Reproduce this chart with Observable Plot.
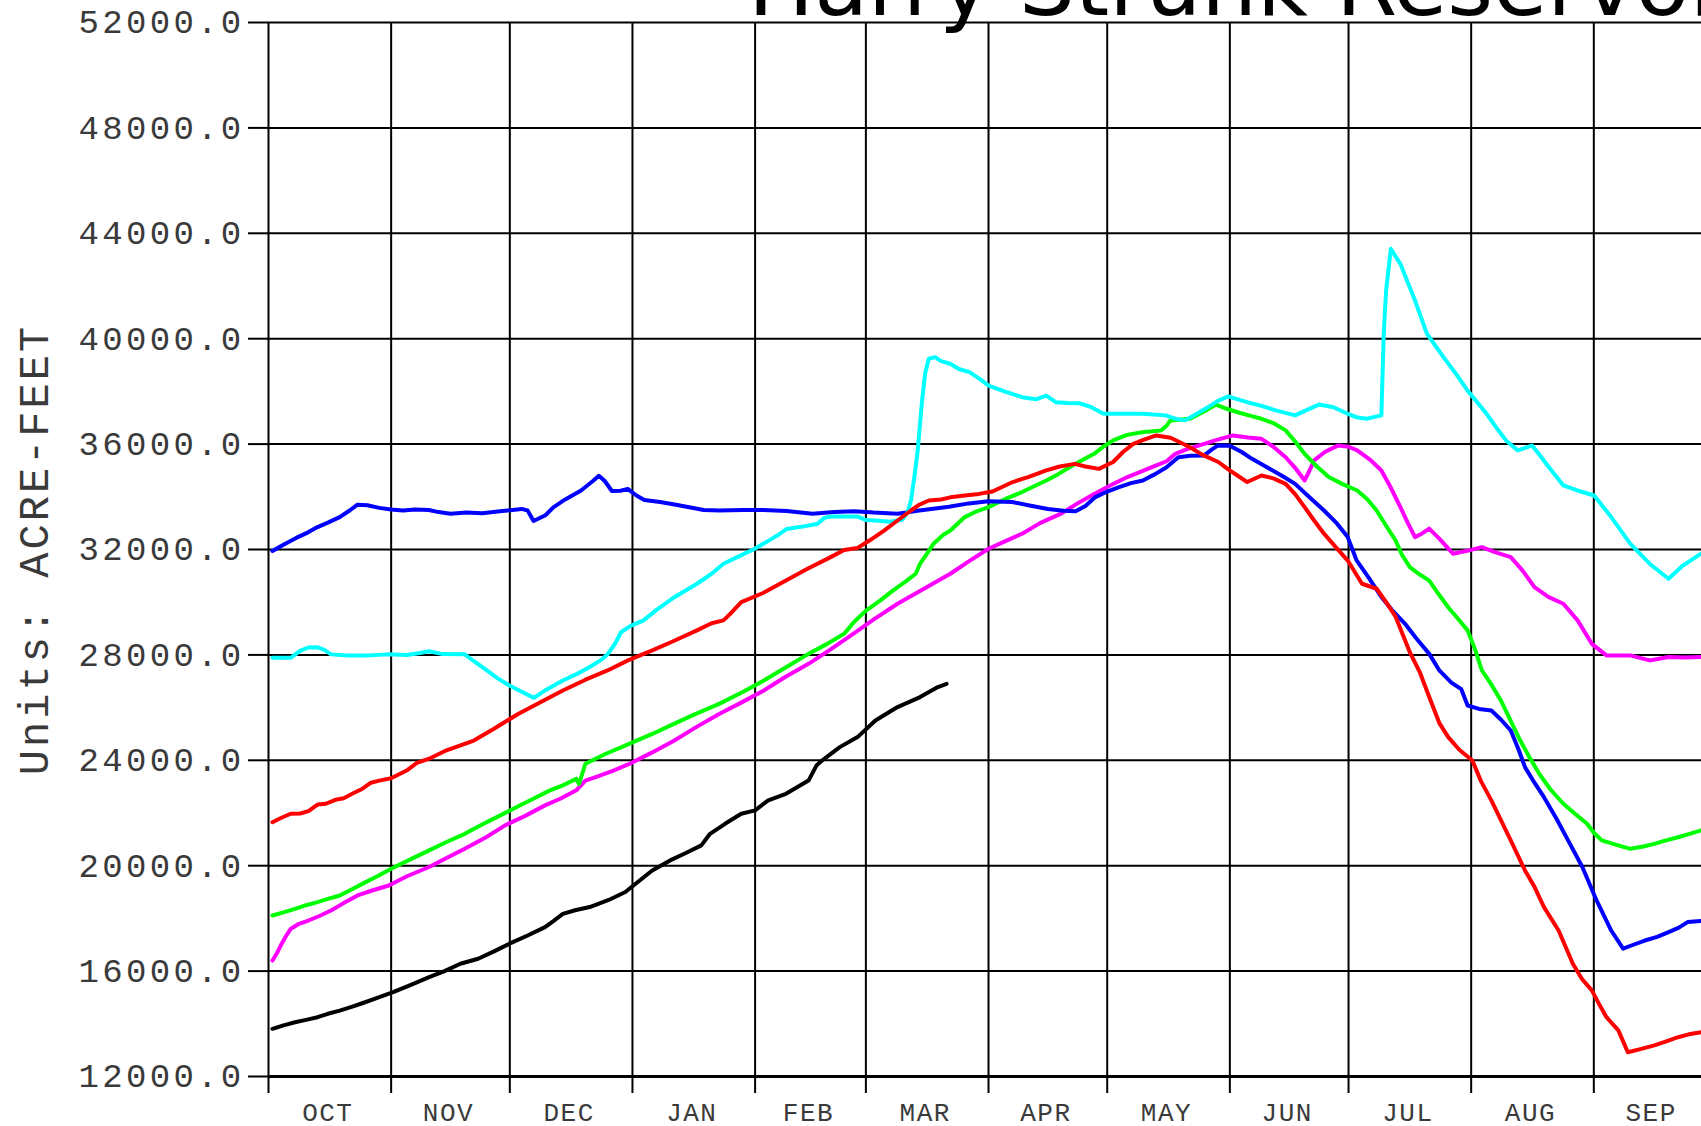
<!DOCTYPE html>
<html><head><meta charset="utf-8">
<script src="https://cdn.jsdelivr.net/npm/d3@7"></script>
<script src="https://cdn.jsdelivr.net/npm/@observablehq/plot@0.6"></script>
<style>
html, body { margin:0; padding:0; overflow:hidden; background:#fff; width:1701px; height:1126px; }
#wrap { position:relative; width:1720px; height:1126px; }
#title { position:absolute; left:748px; top:-59.5px; font-family:"DejaVu Sans"; font-size:88px; line-height:88px; white-space:nowrap; color:#000; z-index:2; }
#chart { position:absolute; left:0; top:0; }
#chart svg { max-width:none !important; }
g[aria-label="y-axis tick label"] text { letter-spacing: 3.3px; }
g[aria-label="x-axis tick label"] text { letter-spacing: 1.5px; }
g[aria-label="text"] text { letter-spacing: 3px; }
</style>
</head><body>
<div id="wrap"><div id="title">Harry Strunk Reservoir</div><div id="chart"></div></div>
<script>
// Water-year day index (Oct 1 = 0)
const monthNames = ["OCT","NOV","DEC","JAN","FEB","MAR","APR","MAY","JUN","JUL","AUG","SEP"];
const monthStarts = [0,31,61,92,123,151,182,212,243,273,304,335,365];
const yTicks = [12000,16000,20000,24000,28000,32000,36000,40000,44000,48000,52000];
const yLabel = "Units: ACRE-FEET";
const titleText = "Harry Strunk Reservoir";

const blue = [[1,31940],[4,32200],[7,32440],[10,32650],[12.4,32850],[15,33020],[18,33230],[20.5,33480],[22.5,33700],[25,33680],[28,33580],[31,33520],[34,33480],[37,33520],[40.5,33500],[43,33420],[46,33360],[50,33400],[54,33380],[58.5,33450],[64,33540],[65.5,33480],[67,33080],[70,33300],[72,33600],[75,33900],[79,34240],[82,34600],[83.5,34800],[85,34600],[86.8,34220],[89,34230],[90.8,34300],[93,34050],[95,33880],[99,33800],[103,33700],[106,33610],[110,33500],[114,33480],[120,33500],[125,33500],[131,33460],[137.5,33360],[143,33420],[148,33450],[153,33400],[159,33360],[164.5,33480],[168,33550],[172,33620],[177,33750],[182,33830],[188,33800],[193,33650],[197,33540],[201,33470],[204,33450],[206.5,33650],[209,33990],[212,34200],[215,34370],[218,34520],[221,34620],[224,34850],[227,35120],[230,35500],[233,35560],[236.5,35570],[238.5,35800],[240,35950],[243,35940],[246,35700],[248.6,35440],[251.5,35200],[254.6,34930],[257,34720],[259.5,34490],[263,34000],[266.8,33480],[270,33000],[272.8,32470],[275,31600],[278,30950],[281.3,30200],[284,29700],[287.3,29180],[290,28650],[293.4,28040],[296,27400],[299,26950],[301.5,26700],[303.1,26080],[306,25950],[309.1,25890],[311.5,25550],[314,25130],[316,24400],[317.6,23740],[320,23150],[322.4,22600],[325.5,21800],[328.5,20960],[332.1,19950],[335.7,18680],[339.4,17540],[342.4,16850],[345,17000],[347.9,17160],[351,17300],[353.9,17480],[356.5,17650],[358.7,17860],[362,17900],[365,17920]];

const cyan = [[1,27890],[5.6,27890],[8,28150],[10,28280],[12.4,28290],[14,28200],[15.8,28020],[20,27980],[25,27980],[30,28020],[35,28000],[38.3,28070],[40.6,28140],[44,28030],[49.6,28020],[52,27750],[55.2,27410],[58,27100],[60.9,26840],[64,26600],[67.1,26370],[70,26660],[74.4,27030],[78,27280],[81.2,27540],[84,27800],[85.7,28020],[87.5,28400],[89.1,28860],[91.5,29100],[94.7,29300],[98,29700],[102.6,30190],[108.3,30700],[112,31080],[115,31460],[119,31750],[122.9,32030],[125.8,32280],[128.6,32530],[131,32780],[134.2,32850],[138.7,32970],[140.5,33200],[142.1,33250],[148.9,33250],[151,33120],[153.4,33100],[157,33050],[160.2,33130],[161.5,33400],[162.4,33860],[163.3,34800],[164.1,35760],[165.2,37650],[166,38700],[166.9,39240],[168.5,39300],[170,39150],[172.35,39050],[174.5,38850],[177.2,38730],[180,38450],[182,38220],[186,38000],[190.5,37780],[194,37700],[196.6,37840],[199,37590],[202,37560],[205,37550],[208,37400],[211.1,37150],[216,37150],[220.8,37150],[226.8,37090],[229.5,36950],[231.7,36900],[235.3,37210],[238,37450],[240.1,37650],[242.6,37810],[245,37700],[247.4,37590],[251,37450],[254.6,37280],[259.5,37090],[262.5,37300],[265.5,37500],[269.2,37400],[272.8,37150],[275,37020],[277.6,36960],[281.3,37090],[281.9,40190],[282.5,41830],[283.7,43410],[286.1,42840],[289.8,41450],[292.8,40190],[297,39300],[300,38700],[303.1,38030],[307.9,37150],[310.5,36600],[312.8,36140],[315.8,35760],[319.4,35950],[321.5,35550],[323.6,35130],[327.3,34430],[331,34230],[335.1,34050],[339.4,33230],[344.2,32220],[349.1,31460],[353.9,30890],[357.5,31390],[362.1,31840],[365,32100]];

const red = [[1,21650],[3,21800],[5.6,21970],[8,21980],[10.1,22070],[12.4,22320],[14.5,22350],[16.9,22500],[19,22560],[21.4,22750],[23.5,22900],[25.9,23150],[28,23230],[31,23320],[34.9,23610],[37.5,23900],[40.6,24060],[45,24380],[51.9,24750],[57,25200],[63.1,25760],[68,26150],[74.4,26650],[80,27050],[85.7,27410],[91,27800],[97,28170],[102,28500],[108.3,28930],[112,29200],[115,29310],[117,29600],[119.5,30000],[125,30350],[130.8,30820],[136,31250],[142.1,31710],[145.5,31980],[148.9,32060],[152,32350],[155.6,32720],[159,33100],[162.4,33480],[164.5,33700],[166.9,33860],[170,33900],[172.35,33980],[176,34050],[179.6,34110],[183,34200],[188.1,34560],[192,34750],[196.6,35000],[200,35150],[203.8,35250],[206.5,35150],[209.9,35060],[213.5,35320],[216,35700],[218.5,36000],[220.8,36140],[224.4,36330],[228,36240],[230,36100],[232.9,35880],[236,35600],[240.1,35320],[242.5,35050],[245,34800],[247.4,34560],[251,34810],[254,34700],[257.1,34490],[259.5,34100],[261.9,33610],[264.3,33100],[266.8,32600],[270,32050],[272.8,31580],[276.4,30700],[280.1,30510],[282.5,30000],[284.9,29450],[288.5,28100],[291,27350],[293.4,26400],[296,25400],[298.2,24880],[301,24400],[304.3,23990],[306.5,23200],[309.1,22480],[314,20960],[317.6,19820],[320,19200],[322.4,18430],[326.1,17540],[329.7,16280],[332,15700],[334.5,15270],[336.5,14700],[338.2,14250],[341.2,13750],[343.6,12920],[347,13050],[350.3,13180],[353.5,13340],[356.3,13490],[359,13600],[362.1,13680],[365,13750]];

const green = [[1,18110],[4,18240],[6.7,18360],[9.5,18500],[12.4,18620],[15,18740],[18,18870],[21,19100],[23.7,19310],[27.5,19600],[31.5,19920],[36,20250],[40.6,20580],[45,20900],[49.6,21210],[54,21560],[58.6,21910],[63,22250],[67.7,22600],[71,22850],[74.4,23050],[77.8,23300],[78.5,23100],[80.1,23870],[85,24230],[91.3,24630],[97,25000],[102.6,25390],[108,25760],[113.9,26140],[120,26600],[125.2,27030],[130.5,27500],[136.5,28040],[141,28400],[145.5,28800],[148,29250],[151.1,29690],[154.5,30050],[157.9,30450],[161,30780],[163.6,31080],[164.7,31460],[166.5,31850],[168.1,32220],[170.5,32550],[172.35,32720],[176,33230],[179,33450],[182,33610],[186,33900],[190.5,34180],[193.5,34400],[196.6,34620],[199.5,34850],[202.6,35130],[205.5,35380],[208.7,35630],[211,35900],[213.5,36140],[217,36350],[220.8,36450],[225.6,36520],[227,36700],[228,36900],[232.9,36960],[236,37200],[239.5,37500],[242,37350],[245,37210],[248,37080],[251,36960],[254,36800],[257.1,36520],[259.5,36100],[261.9,35630],[265,35150],[268,34750],[271.5,34480],[275.2,34240],[277.8,33900],[280.1,33480],[282.5,32900],[284.9,32340],[286.5,31800],[288.5,31330],[291,31050],[293.4,30820],[295.8,30300],[298.2,29810],[300.5,29400],[303.1,28930],[305,28200],[306.7,27410],[309,26900],[311.5,26270],[314,25500],[316.4,24750],[318.8,24100],[321.2,23490],[324,22900],[327.3,22350],[330,22000],[333.3,21590],[335,21250],[337,20960],[340.5,20800],[344.2,20640],[347.5,20730],[350.3,20830],[353,20950],[356.3,21080],[359,21200],[362.1,21340],[365,21450]];

const magenta = [[1,16400],[2.2,16700],[3.3,17030],[4.5,17350],[5.6,17600],[7.5,17780],[10.1,17920],[13,18100],[15.8,18300],[19,18580],[22.5,18870],[26,19050],[30.4,19250],[35,19600],[40.6,19950],[45,20290],[49.6,20640],[55,21080],[59.8,21530],[65,21900],[69.9,22290],[74,22560],[77.8,22860],[80.1,23230],[83.4,23400],[87,23600],[91.3,23870],[97,24300],[102.6,24750],[108,25250],[113.9,25760],[119,26150],[125.2,26650],[130.5,27150],[136.5,27660],[142,28200],[147.8,28800],[153,29350],[159,29940],[165,30450],[172.35,31080],[177,31550],[182,32030],[186,32300],[190.5,32600],[195,33000],[200.2,33350],[204.5,33750],[208.7,34110],[213,34450],[217.1,34750],[221,34980],[224.4,35190],[227,35350],[229.2,35630],[232,35800],[235.3,35950],[239.5,36150],[243.8,36330],[247.5,36250],[251,36200],[254,35900],[257.1,35500],[259.5,35100],[261.9,34620],[263,34950],[264.3,35380],[267,35700],[270.4,35950],[273,35900],[275.2,35760],[278.5,35400],[281.3,35000],[283.5,34400],[286.1,33610],[288,33000],[289.8,32470],[291.5,32600],[293.4,32790],[296,32400],[299.4,31840],[303,31950],[306.7,32090],[310,31900],[314,31710],[317,31200],[320,30570],[323.5,30200],[327.3,29940],[330.9,29310],[334.5,28420],[338.2,27980],[344.2,27980],[349.1,27790],[353.9,27920],[358,27900],[362.1,27920],[365,27920]];

const black = [[1,13810],[4,13950],[6.7,14060],[9.5,14150],[12.4,14250],[15,14380],[18,14500],[21,14640],[23.7,14780],[27.5,14980],[31.5,15200],[36,15480],[40.6,15770],[44.5,16000],[48.5,16280],[53,16470],[57,16750],[60.9,17040],[65.5,17350],[69.9,17670],[72,17900],[74.4,18170],[77.5,18310],[81.2,18430],[86,18700],[90.2,19000],[93.5,19400],[97,19820],[101.5,20200],[105.5,20480],[109.4,20770],[111.6,21210],[115.5,21600],[119.5,21970],[123,22100],[126.3,22480],[130.8,22730],[136.5,23230],[138.5,23800],[139.9,23990],[144.4,24500],[148.9,24880],[153.4,25510],[159,26020],[164.7,26400],[169.2,26780],[171.4,26900]];

const seriesList = [
  {name: "black", data: black, color: "#000000"},
  {name: "magenta", data: magenta, color: "#ff00ff"},
  {name: "green", data: green, color: "#00ff00"},
  {name: "blue", data: blue, color: "#0000ff"},
  {name: "cyan", data: cyan, color: "#00ffff"},
  {name: "red", data: red, color: "#ff0000"}
];

const monthMids = monthNames.map((m, i) => (monthStarts[i] + monthStarts[i + 1]) / 2);
const midName = new Map(monthMids.map((d, i) => [d, monthNames[i]]));

const lineMarks = seriesList.map(s => Plot.line(s.data, {
  x: d => d[0], y: d => d[1], stroke: s.color, strokeWidth: 4,
  strokeLinejoin: "round", strokeLinecap: "round"
}));

const chart = Plot.plot({
  width: 1720,
  height: 1126,
  marginLeft: 268,
  marginRight: 8,
  marginTop: 22,
  marginBottom: 50,
  style: {background: "white", fontFamily: "Liberation Mono", overflow: "visible", maxWidth: "none"},
  x: {domain: [0, 365], axis: null},
  y: {domain: [12000, 52000], axis: null},
  marks: [
    Plot.gridY(yTicks, {stroke: "#000", strokeOpacity: 1, strokeWidth: 2}),
    Plot.gridX(monthStarts, {stroke: "#000", strokeOpacity: 1, strokeWidth: 2}),
    Plot.ruleY([12000], {stroke: "#000", strokeWidth: 3}),
    Plot.axisY(yTicks, {
      tickSize: 20, tickPadding: 4, tickFormat: d => d.toFixed(1),
      fontSize: 34, fontFamily: "Liberation Mono", fill: "#3a3a3a",
      stroke: "#000", strokeWidth: 2, label: null
    }),
    Plot.axisX(monthStarts, {
      tickSize: 17, tickFormat: () => "", stroke: "#000", strokeWidth: 2, label: null
    }),
    Plot.axisX(monthMids, {
      tickSize: 0, tickPadding: 26, tickFormat: d => midName.get(d), dx: -2,
      fontSize: 26, fontFamily: "Liberation Mono", fill: "#3a3a3a", label: null
    }),
    Plot.text([yLabel], {
      text: d => d, frameAnchor: "left", rotate: -90, dx: -221,
      textAnchor: "middle", lineAnchor: "bottom",
      fontSize: 42, fontFamily: "Liberation Mono", fill: "#3a3a3a"
    }),
    ...lineMarks
  ]
});
document.getElementById("chart").appendChild(chart);
document.getElementById("title").textContent = titleText;
</script>
</body></html>
